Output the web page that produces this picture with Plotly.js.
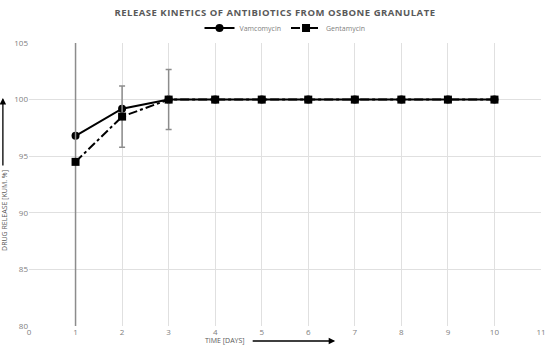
<!DOCTYPE html>
<html>
<head>
<meta charset="utf-8">
<script src="https://cdn.plot.ly/plotly-3.0.1.min.js"></script>
<style>
  body { margin: 0; }
  .gtitle { letter-spacing: 0.5px; }
</style>
</head>
<body>
<div id="grafica" style="width:550px;height:352px;"></div>
<script>
const dias = [1, 2, 3, 4, 5, 6, 7, 8, 9, 10];
const vancomycin = [96.8, 99.2, 100, 100, 100, 100, 100, 100, 100, 100];
const gentamycin = [94.5, 98.5, 100, 100, 100, 100, 100, 100, 100, 100];
const gentamycinError = [15, 2.7, 2.65, 0, 0, 0, 0, 0, 0, 0];
const xTicks = [0, 1, 2, 3, 4, 5, 6, 7, 8, 9, 10, 11];
const yTicks = [80, 85, 90, 95, 100, 105];

const trace1 = {
    x: dias,
    y: vancomycin,
    mode: 'lines+markers',
    name: 'Vamcomycin',
    line: { color: 'black', width: 2 },
    marker: { symbol: 'circle', size: 8, color: 'black' }
};

const trace2 = {
    x: dias,
    y: gentamycin,
    mode: 'lines+markers',
    name: 'Gentamycin',
    line: { color: 'black', width: 2, dash: 'dashdot' },
    marker: { symbol: 'square', size: 8, color: 'black' },
    error_y: {
        type: 'data',
        array: gentamycinError,
        visible: true,
        color: '#8c8c8c',
        thickness: 1.5,
        width: 3
    }
};

const layout = {
    width: 550,
    height: 352,
    margin: { l: 29, r: 9, t: 43, b: 26 },
    paper_bgcolor: 'white',
    plot_bgcolor: 'white',
    font: { family: 'Open Sans, sans-serif', color: '#808080', size: 8 },
    title: {
        text: 'RELEASE KINETICS OF ANTIBIOTICS FROM OSBONE GRANULATE',
        font: { family: 'Open Sans, sans-serif', size: 9.5, color: '#595959', weight: 'bold' },
        x: 0.5,
        xanchor: 'center',
        y: 0.965,
        yanchor: 'middle'
    },
    showlegend: true,
    legend: {
        orientation: 'h',
        x: 0.5,
        xanchor: 'center',
        y: 1.053,
        yanchor: 'middle',
        font: { size: 7, color: '#808080' },
        itemwidth: 30
    },
    xaxis: {
        range: [0, 11],
        tickvals: xTicks,
        showgrid: true,
        gridcolor: '#e0e0e0',
        gridwidth: 1,
        zeroline: false,
        showline: false,
        ticks: '',
        tickfont: { size: 8, color: '#808080' }
    },
    yaxis: {
        range: [80, 105],
        tickvals: yTicks,
        showgrid: true,
        gridcolor: '#e0e0e0',
        gridwidth: 1,
        zeroline: false,
        showline: false,
        ticks: '',
        tickfont: { size: 8, color: '#808080' }
    },
    annotations: [
        {
            text: 'TIME [DAYS]',
            xref: 'paper', yref: 'paper',
            x: 0.426, y: -0.053,
            xanchor: 'right', yanchor: 'middle',
            showarrow: false,
            font: { size: 7, color: '#595959' }
        },
        {
            text: '',
            xref: 'paper', yref: 'paper',
            x: 0.598, y: -0.053,
            ax: -84, ay: 0,
            showarrow: true,
            arrowhead: 2,
            arrowsize: 1,
            arrowwidth: 1.3,
            arrowcolor: 'black'
        },
        {
            text: 'DRUG RELEASE [KUM. %]',
            xref: 'paper', yref: 'paper',
            x: -0.047, y: 0.41,
            xanchor: 'center', yanchor: 'middle',
            textangle: -90,
            showarrow: false,
            font: { size: 7, color: '#595959' }
        },
        {
            text: '',
            xref: 'paper', yref: 'paper',
            x: -0.051, y: 0.806,
            ax: 0, ay: 69,
            showarrow: true,
            arrowhead: 2,
            arrowsize: 1,
            arrowwidth: 1.3,
            arrowcolor: 'black'
        }
    ]
};

Plotly.newPlot('grafica', [trace1, trace2], layout, { displayModeBar: false });
</script>
</body>
</html>
